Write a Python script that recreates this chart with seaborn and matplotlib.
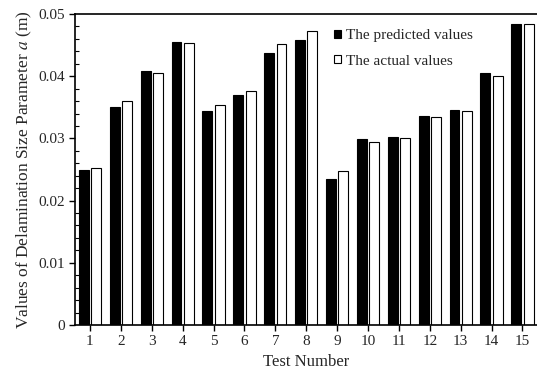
import numpy as np
import pandas as pd
import matplotlib
matplotlib.use("Agg")
import matplotlib.pyplot as plt
import seaborn as sns
from matplotlib.ticker import MultipleLocator

tests = [str(i) for i in range(1, 16)]
predicted = [0.0250, 0.0351, 0.0408, 0.0455, 0.0344, 0.0369, 0.0437, 0.0458,
             0.0234, 0.0299, 0.0303, 0.0336, 0.0346, 0.0405, 0.0484]
actual = [0.0252, 0.0360, 0.0405, 0.0453, 0.0354, 0.0376, 0.0451, 0.0473,
          0.0248, 0.0295, 0.0301, 0.0334, 0.0344, 0.0401, 0.0484]
series = ["The predicted values", "The actual values"]
yticks = [0, 0.01, 0.02, 0.03, 0.04, 0.05]
ytick_labels = ["0", "0.01", "0.02", "0.03", "0.04", "0.05"]

df = pd.DataFrame({
    "Test": tests * 2,
    "value": predicted + actual,
    "series": [series[0]] * 15 + [series[1]] * 15,
})

sns.set_style("ticks")
plt.rcParams["font.family"] = ["Liberation Serif", "DejaVu Serif"]
plt.rcParams["mathtext.fontset"] = "stix"

fig = plt.figure(figsize=(5.37, 3.74), dpi=100)
ax = fig.add_axes([75 / 537, 1 - 325 / 374, 462 / 537, 311 / 374])

sns.barplot(data=df, x="Test", y="value", hue="series", ax=ax,
            palette=["black", "white"], edgecolor="black", linewidth=0.8,
            width=0.8, gap=0.2, saturation=1)

ax.set_xlim(-0.485, 14.47)
ax.set_ylim(0, 0.05)
ax.set_yticks(yticks, ytick_labels)
ax.yaxis.set_minor_locator(MultipleLocator(0.002))
ax.tick_params(axis="y", which="major", direction="out", length=4, width=1,
               labelsize=11, color="black", pad=3)
ax.tick_params(axis="y", which="minor", direction="in", length=3, width=0.8,
               color="black", left=True)
ax.tick_params(axis="x", direction="out", length=4, width=1, labelsize=11, color="black")
for s in ["left", "bottom", "top"]:
    ax.spines[s].set_linewidth(1.2)
    ax.spines[s].set_color("black")
ax.spines["right"].set_visible(False)

ax.set_xlabel("Test Number", fontsize=12, labelpad=4)
ax.set_ylabel("Values of Delamination Size Parameter $a$ (m)", fontsize=12.5, labelpad=3)

ax.legend(loc="upper left", bbox_to_anchor=(0.53, 0.995), frameon=False, fontsize=11,
          handlelength=0.5, handleheight=0.5, handletextpad=0.3, labelspacing=0.8)

fig.savefig("out.png", dpi=100)
